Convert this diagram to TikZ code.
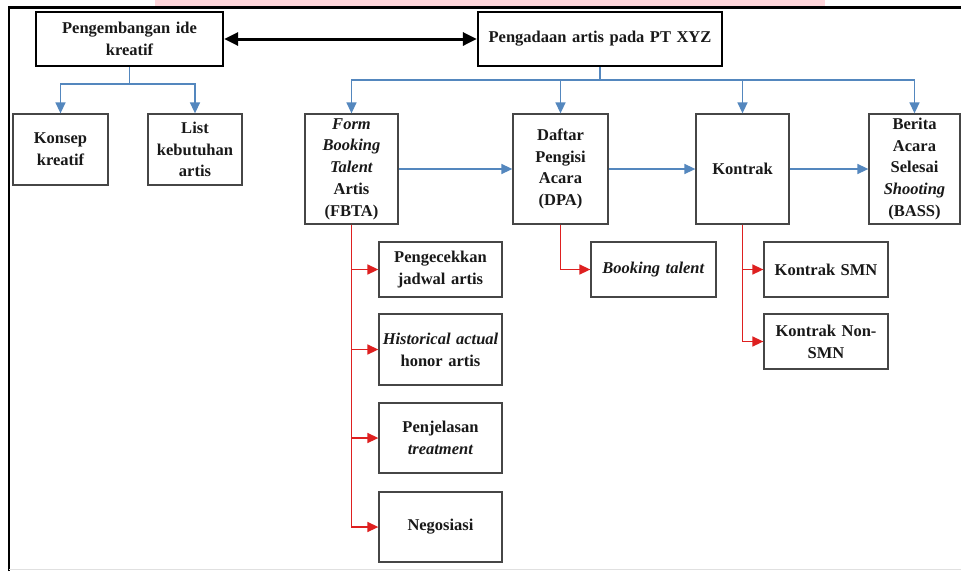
\documentclass[tikz,border=0pt]{standalone}
\usepackage{fontspec}
\setmainfont{Liberation Serif}
\usetikzlibrary{arrows.meta}
\definecolor{bl}{RGB}{84,135,190}
\definecolor{rd}{RGB}{222,32,32}
\definecolor{pinkbar}{RGB}{255,214,219}
\definecolor{boxc}{RGB}{70,70,70}
\begin{document}
\begin{tikzpicture}[x=1pt,y=-1pt,
  font=\fontsize{16.5}{21.7}\selectfont\bfseries,
  box/.style={draw=boxc, line width=1.3pt, fill=white, inner sep=0pt, align=center, text=black!90},
  topbox/.style={box, draw=black, line width=2.3pt},
  bline/.style={draw=bl, line width=1.5pt, -{Triangle[length=11pt,width=10pt]}},
  bplain/.style={draw=bl, line width=1.5pt},
  rline/.style={draw=rd, line width=1.5pt, -{Triangle[length=11pt,width=10pt]}},
  dbl/.style={draw=black, line width=3pt, {Triangle[length=14pt,width=13pt]}-{Triangle[length=14pt,width=13pt]}}
]
\useasboundingbox (0,0) rectangle (961,571);
\fill[white] (0,0) rectangle (961,571);
\fill[pinkbar] (155,0) rectangle (825,6);
\draw[line width=2.5pt] (9,571) -- (9,7.5) -- (961,7.5);
\draw[black!12, line width=1pt] (9,569.5) -- (961,569.5);

% top boxes
\node[topbox, minimum width=187pt, minimum height=54pt, text width=180pt] (ide) at (129.5,39) {Pengembangan ide\\kreatif};
\node[topbox, minimum width=244pt, minimum height=54pt, text width=236pt] (ada) at (600,39) {Pengadaan artis pada PT XYZ};

% second row
\node[box, minimum width=95pt, minimum height=71pt, text width=88pt] (konsep) at (60.5,149.5) {Konsep\\kreatif};
\node[box, minimum width=94pt, minimum height=71pt, text width=88pt] (list) at (195,149.5) {List\\kebutuhan\\artis};
\node[box, minimum width=93pt, minimum height=110pt, text width=88pt] (fbta) at (351.5,169) {\textit{Form}\\\textit{Booking}\\\textit{Talent}\\Artis\\(FBTA)};
\node[box, minimum width=95pt, minimum height=110pt, text width=88pt] (dpa) at (560.5,169) {Daftar\\Pengisi\\Acara\\(DPA)};
\node[box, minimum width=93pt, minimum height=110pt, text width=88pt] (kontrak) at (742.5,169) {Kontrak};
\node[box, minimum width=91pt, minimum height=110pt, text width=88pt] (bass) at (914.5,169) {Berita\\Acara\\Selesai\\\textit{Shooting}\\(BASS)};

% sub boxes
\node[box, minimum width=123pt, minimum height=55pt, text width=118pt] (cek) at (440.5,269.5) {Pengecekkan\\jadwal artis};
\node[box, minimum width=123pt, minimum height=71pt, text width=118pt] (hist) at (440.5,349.5) {\textit{Historical actual}\\honor artis};
\node[box, minimum width=123pt, minimum height=70pt, text width=118pt] (jelas) at (440.5,438) {Penjelasan\\\textit{treatment}};
\node[box, minimum width=123pt, minimum height=70pt, text width=118pt] (nego) at (440.5,527) {Negosiasi};
\node[box, minimum width=125pt, minimum height=55pt, text width=118pt] (book) at (653.5,269.5) {\textit{Booking talent}};
\node[box, minimum width=124pt, minimum height=55pt, text width=118pt] (smn) at (826,269.5) {Kontrak SMN};
\node[box, minimum width=124pt, minimum height=55pt, text width=118pt] (nsmn) at (826,341.5) {Kontrak Non-\\SMN};

% double arrow
\draw[dbl] (ide.east) -- (ada.west);

% blue tree left
\coordinate (j1) at (129.5,84);
\draw[bplain] (ide.south) -- (j1);
\draw[bline] (j1) -| (konsep.north);
\draw[bline] (j1) -| (list.north);

% blue tree right
\coordinate (j2) at (600,80);
\draw[bplain] (ada.south) -- (j2);
\draw[bline] (j2) -| (fbta.north);
\draw[bline] (j2) -| (dpa.north);
\draw[bline] (j2) -| (kontrak.north);
\draw[bline] (j2) -| (bass.north);

% horizontal flow
\draw[bline] (fbta.east) -- (dpa.west);
\draw[bline] (dpa.east) -- (kontrak.west);
\draw[bline] (kontrak.east) -- (bass.west);

% red branches
\draw[rline] (fbta.south) |- (cek.west);
\draw[rline] (fbta.south) |- (hist.west);
\draw[rline] (fbta.south) |- (jelas.west);
\draw[rline] (fbta.south) |- (nego.west);
\draw[rline] (dpa.south) |- (book.west);
\draw[rline] (kontrak.south) |- (smn.west);
\draw[rline] (kontrak.south) |- (nsmn.west);
\end{tikzpicture}
\end{document}
